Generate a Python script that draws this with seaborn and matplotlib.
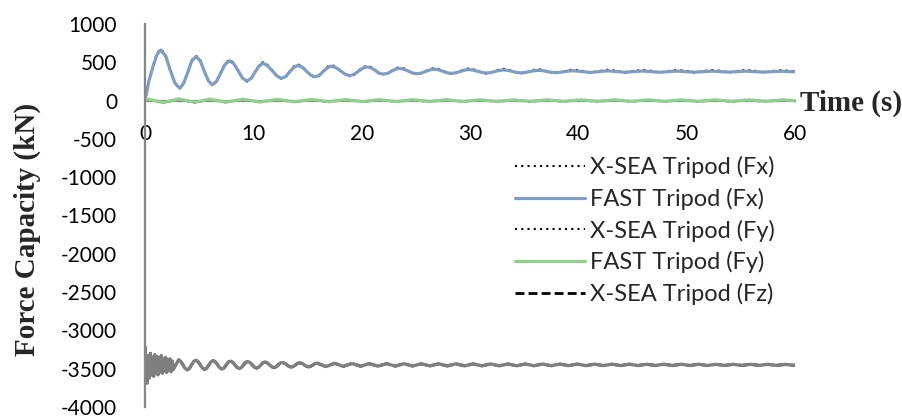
import matplotlib
matplotlib.use("Agg")
import matplotlib.pyplot as plt
import pandas as pd
import seaborn as sns

# ---- time histories of tower-base forces (kN) ----
# Fx : X-SEA vs FAST, one half-cycle per row
t_fx = [0, 0.35, 0.75, 1.1, 1.45,
        1.9, 2.3, 2.75, 3.2,
        3.55, 3.95, 4.3, 4.7,
        5.1, 5.45, 5.85, 6.2,
        6.6, 7.0, 7.4, 7.8,
        8.2, 8.6, 9.0, 9.4,
        9.8, 10.15, 10.55, 10.9,
        11.3, 11.75, 12.2, 12.6,
        13.0, 13.35, 13.75, 14.1,
        14.5, 14.9, 15.3, 15.7,
        16.1, 16.45, 16.85, 17.2,
        17.6, 18.05, 18.5, 18.9,
        19.3, 19.7, 20.1, 20.5,
        20.9, 21.25, 21.6, 22.0,
        22.4, 22.75, 23.1, 23.5,
        23.9, 24.3, 24.7, 25.1,
        25.5, 25.9, 26.3, 26.7,
        27.1, 27.5, 27.9, 28.3,
        28.7, 29.1, 29.5, 29.9,
        30.3, 30.7, 31.1, 31.5,
        31.9, 32.3, 32.7, 33.1,
        33.5, 33.9, 34.3, 34.7,
        35.1, 35.5, 35.9, 36.3,
        36.7, 37.1, 37.5, 37.9,
        38.3, 38.7, 39.1, 39.5,
        40.3, 41.1, 41.9, 42.7, 43.5, 44.3, 45.1, 45.9, 46.7, 47.5,
        48.3, 49.1, 49.9, 50.7, 51.5, 52.3, 53.1, 53.9, 54.7, 55.5,
        56.3, 57.1, 57.9, 58.7, 59.4, 60.0]
fx_fast = [0, 250, 450, 600, 660,
           587, 410, 233, 160,
           221, 368, 514, 575,
           521, 390, 259, 205,
           251, 363, 474, 520,
           481, 388, 294, 255,
           289, 371, 453, 487,
           458, 389, 319, 290,
           315, 375, 435, 460,
           438, 385, 332, 310,
           330, 380, 430, 450,
           432, 388, 343, 325,
           342, 383, 423, 440,
           426, 393, 359, 345,
           356, 383, 409, 420,
           410, 385, 360, 350,
           359, 380, 401, 410,
           402, 383, 363, 355,
           362, 380, 398, 405,
           398, 383, 367, 360,
           366, 380, 394, 400,
           394, 381, 368, 362,
           367, 378, 390, 395,
           391, 380, 369, 365,
           369, 378, 386, 390,
           380, 368, 378, 388, 379, 370, 378, 386, 378, 370,
           378, 385, 378, 371, 378, 384, 378, 372, 378, 384,
           378, 372, 378, 383, 378, 376]
fx_xsea = [0, 255, 460, 615, 675,
           597, 415, 230, 152,
           220, 373, 527, 590,
           531, 395, 256, 198,
           250, 368, 486, 535,
           491, 393, 291, 248,
           288, 376, 465, 502,
           468, 394, 316, 283,
           314, 380, 447, 475,
           448, 390, 330, 303,
           329, 385, 442, 465,
           442, 393, 341, 318,
           341, 388, 435, 455,
           436, 398, 357, 338,
           355, 388, 421, 435,
           420, 390, 358, 343,
           358, 385, 413, 425,
           412, 388, 361, 348,
           361, 385, 410, 420,
           408, 388, 365, 353,
           365, 385, 406, 415,
           404, 386, 366, 355,
           366, 383, 402, 410,
           401, 385, 367, 358,
           368, 383, 398, 405,
           392, 362, 385, 402, 390, 364, 386, 400, 390, 365,
           386, 399, 390, 366, 386, 398, 390, 367, 386, 398,
           390, 367, 386, 397, 390, 385]

# Fy : X-SEA vs FAST (peaks and troughs)
t_fy = [0, 0.15, 1.7, 3.1, 4.6, 6.0, 7.5, 9.05, 10.6, 12.2,
        13.8, 15.4, 17.0, 18.5, 20.1, 21.6, 23.2, 24.7, 26.3, 27.8,
        29.4, 30.9, 32.5, 34.0, 35.6, 37.1, 38.7, 40.2, 41.8, 43.3,
        44.9, 46.4, 48.0, 49.5, 51.1, 52.6, 54.2, 55.7, 57.3, 58.8,
        60.0]
fy_fast = [0, 22, -25, 22, -22, 20, -20, 18, -18, 16,
           -16, 15, -15, 14, -14, 13, -13, 12, -12, 12,
           -11, 11, -11, 10, -10, 10, -10, 10, -10, 10,
           -10, 10, -10, 10, -10, 10, -10, 10, -10, 10,
           0]
fy_xsea = [0, 18, -30, 18, -27, 16, -25, 14, -22, 12,
           -20, 11, -19, 10, -18, 9, -17, 8, -16, 8,
           -15, 7, -15, 6, -14, 6, -14, 6, -14, 6,
           -14, 6, -14, 6, -14, 6, -14, 6, -14, 6,
           -4]

# Fz : start-up transient, decaying wave, settled tail
t_fz_start = [0.0, 0.1, 0.2, 0.3, 0.4, 0.5, 0.6, 0.7, 0.8, 0.9,
              1.0, 1.1, 1.2, 1.3, 1.4, 1.5, 1.6, 1.7, 1.8, 1.9,
              2.0, 2.1, 2.2, 2.3, 2.4, 2.5, 2.6]
fz_start = [-3210, -3500, -3690, -3330, -3620, -3300, -3580, -3350, -3600, -3320,
            -3560, -3340, -3580, -3360, -3540, -3330, -3560, -3370, -3530, -3350,
            -3550, -3380, -3520, -3370, -3540, -3400, -3510]
t_fz_wave = [3.1, 3.3, 3.5, 3.7, 3.9, 4.1, 4.3, 4.5,
             4.7, 4.9, 5.1, 5.3, 5.5, 5.7, 5.9, 6.1,
             6.3, 6.5, 6.7, 6.9, 7.1, 7.3, 7.5, 7.7,
             7.9, 8.1, 8.3, 8.5, 8.7, 8.9, 9.1, 9.3,
             9.5, 9.7, 9.9, 10.1, 10.3, 10.5, 10.7, 10.9,
             11.1, 11.3, 11.5, 11.7, 11.9, 12.1, 12.3, 12.5,
             12.7, 12.9, 13.1, 13.3, 13.5, 13.7, 13.9, 14.1,
             14.3, 14.5, 14.7, 14.9, 15.1, 15.3, 15.5, 15.7]
fz_wave = [-3385, -3404, -3450, -3496, -3515, -3496, -3450, -3404,
           -3390, -3408, -3450, -3492, -3510, -3492, -3450, -3408,
           -3395, -3411, -3450, -3489, -3505, -3489, -3450, -3411,
           -3402, -3416, -3450, -3484, -3498, -3484, -3450, -3416,
           -3408, -3420, -3450, -3480, -3492, -3480, -3450, -3420,
           -3414, -3425, -3450, -3475, -3486, -3475, -3450, -3425,
           -3420, -3429, -3450, -3471, -3480, -3471, -3450, -3429,
           -3424, -3432, -3450, -3468, -3476, -3468, -3450, -3432]
t_fz_tail = [15.9, 16.7, 17.5, 18.3, 19.1, 19.9, 20.7, 21.5, 22.3, 23.1,
             23.9, 24.7, 25.5, 26.3, 27.1, 27.9, 28.7, 29.5, 30.3, 31.1,
             31.9, 32.7, 33.5, 34.3, 35.1, 35.9, 36.7, 37.5, 38.3, 39.1,
             39.9, 40.7, 41.5, 42.3, 43.1, 43.9, 44.7, 45.5, 46.3, 47.1,
             47.9, 48.7, 49.5, 50.3, 51.1, 51.9, 52.7, 53.5, 54.3, 55.1,
             55.9, 56.7, 57.5, 58.3, 59.1, 59.9, 60.0]
fz_tail = [-3428, -3472, -3430, -3470, -3432, -3468, -3433, -3467, -3434, -3466,
           -3435, -3465, -3436, -3464, -3436, -3464, -3437, -3463, -3437, -3463,
           -3438, -3462, -3438, -3462, -3439, -3461, -3439, -3461, -3440, -3460,
           -3440, -3460, -3441, -3459, -3441, -3459, -3441, -3459, -3442, -3458,
           -3442, -3458, -3442, -3458, -3442, -3458, -3443, -3457, -3443, -3457,
           -3443, -3457, -3443, -3457, -3444, -3456, -3452]

x_ticks = [0, 10, 20, 30, 40, 50, 60]
y_ticks = [-4000, -3500, -3000, -2500, -2000, -1500, -1000, -500, 0, 500, 1000]

sns.set_theme(style="white")
plt.rcParams["font.family"] = ["Lato", "DejaVu Sans"]

fig = plt.figure(figsize=(9.03, 4.2), dpi=100)
ax = fig.add_axes([145 / 903, 13 / 420, 650 / 903, 383 / 420])

fx = pd.DataFrame({"t": t_fx, "xsea": fx_xsea, "fast": fx_fast})
fy = pd.DataFrame({"t": t_fy, "xsea": fy_xsea, "fast": fy_fast})
fz = pd.DataFrame({"t": t_fz_start + t_fz_wave + t_fz_tail,
                   "F": fz_start + fz_wave + fz_tail})

dotted = (0, (1, 2))
dashed = (0, (3.2, 1.5))
sns.lineplot(data=fx, x="t", y="xsea", ax=ax, color="black", lw=1.5,
             linestyle=dotted, label="X-SEA Tripod (Fx)", estimator=None, sort=False)
sns.lineplot(data=fx, x="t", y="fast", ax=ax, color="#7f9dc3", lw=2.3,
             label="FAST Tripod (Fx)", estimator=None, sort=False)
sns.lineplot(data=fy, x="t", y="xsea", ax=ax, color="black", lw=1.5,
             linestyle=dotted, label="X-SEA Tripod (Fy)", estimator=None, sort=False)
sns.lineplot(data=fy, x="t", y="fast", ax=ax, color="#8fd18a", lw=2.3,
             label="FAST Tripod (Fy)", estimator=None, sort=False)
# the two Fz traces coincide at this scale
sns.lineplot(data=fz, x="t", y="F", ax=ax, color="black", lw=2.0,
             linestyle=dashed, label="X-SEA Tripod (Fz)", estimator=None, sort=False)
sns.lineplot(data=fz, x="t", y="F", ax=ax, color="#7f7f7f", lw=2.4,
             label="FAST Tripod (Fz)", estimator=None, sort=False)

ax.set_xlim(0, 60)
ax.set_ylim(-4000, 1000)
ax.set_xticks(x_ticks)
ax.set_yticks(y_ticks)
ax.set_xticklabels([str(v) for v in x_ticks])
ax.set_yticklabels([str(v) for v in y_ticks])
ax.set_xlabel("")
ax.set_ylabel("")

for side in ("top", "right"):
    ax.spines[side].set_visible(False)
ax.spines["bottom"].set_position(("data", 0))
for side in ("left", "bottom"):
    ax.spines[side].set_color("#878787")
    ax.spines[side].set_linewidth(1.6)
ax.spines["bottom"].set_zorder(0.5)

ax.tick_params(axis="both", length=0, labelsize=15, colors="black")
ax.tick_params(axis="x", pad=17)
ax.tick_params(axis="y", pad=20)

handles, labels = ax.get_legend_handles_labels()
keep = ["X-SEA Tripod (Fx)", "FAST Tripod (Fx)", "X-SEA Tripod (Fy)",
        "FAST Tripod (Fy)", "X-SEA Tripod (Fz)"]
hmap = dict(zip(labels, handles))
ax.legend([hmap[k] for k in keep], keep, loc="upper left",
          bbox_to_anchor=(515 / 903, 1 - 156 / 420), bbox_transform=fig.transFigure,
          frameon=False, fontsize=17, handlelength=2.96, handletextpad=0.21,
          labelspacing=0.41, borderpad=0, borderaxespad=0)

serif_bold = dict(family=["Liberation Serif", "DejaVu Serif"], fontweight="bold", fontsize=21)
fig.text(27 / 903, 1 - 229 / 420, "Force Capacity (kN)", rotation=90,
         ha="center", va="center", **serif_bold)
fig.text(800 / 903, 1 - 103 / 420, "Time (s)", ha="left", va="center", **serif_bold)

fig.savefig("out.png", dpi=100)
